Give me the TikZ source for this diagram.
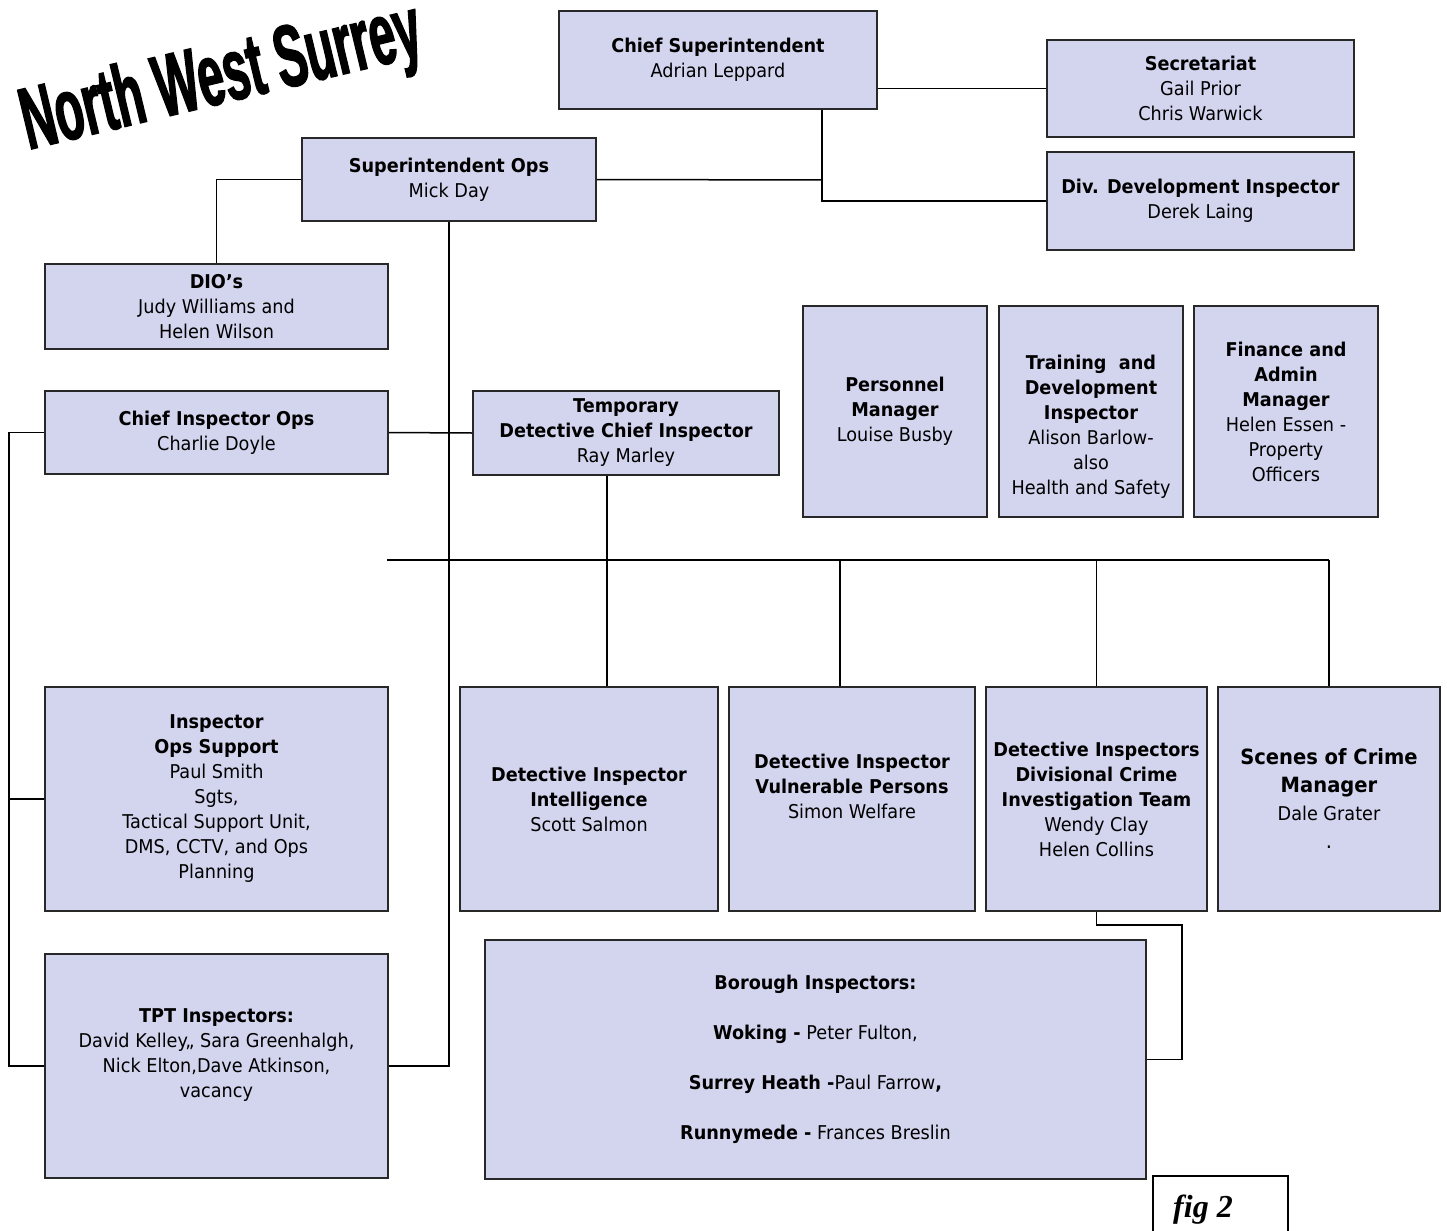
\documentclass[tikz,border=0pt]{standalone}
\usepackage{fontspec}
\setmainfont{DejaVu Sans}[FakeStretch=0.93]
\newfontfamily\titlefont{Liberation Sans}[FakeStretch=0.53,FakeBold=1.5]
\newfontfamily\figfont{Liberation Serif}
\definecolor{boxfill}{RGB}{211,213,239}
\definecolor{boxline}{RGB}{40,40,40}

\begin{document}
\begin{tikzpicture}[x=0.5pt, y=-0.5pt,
	post/.style={rectangle, fill=boxfill, draw=boxline, line width=0.9pt, inner sep=0pt, align=center, font=\fontsize{9.5}{12.5}\selectfont},
	link/.style={black, line width=0.75pt}]
	\useasboundingbox (0,0) rectangle (1447,1231);

	% Title
	\node[rotate=13.5, font=\titlefont\bfseries\fontsize{44}{44}\selectfont] (title) at (222,80) {North West Surrey};

	% Top posts
	\node[post, minimum width=159pt, minimum height=49pt] (chief) at (718,60) {\textbf{Chief Superintendent}\\Adrian Leppard};
	\node[post, minimum width=153.5pt, minimum height=48.5pt] (sec) at (1200.5,88.5) {\textbf{Secretariat}\\Gail Prior\\Chris Warwick};
	\node[post, minimum width=153.5pt, minimum height=49pt] (divdev) at (1200.5,201) {\textbf{Div. Development Inspector}\\Derek Laing};
	\node[post, minimum width=147pt, minimum height=41.5pt] (supops) at (449,179.5) {\textbf{Superintendent Ops}\\Mick Day};
	\node[post, minimum width=171.5pt, minimum height=42.5pt] (dios) at (216.5,306.5) {\textbf{DIO’s}\\Judy Williams and\\Helen Wilson};
	\node[post, minimum width=171.5pt, minimum height=41.5pt] (chiefinsp) at (216.5,432.5) {\textbf{Chief Inspector Ops}\\Charlie Doyle};
	\node[post, minimum width=153pt, minimum height=42pt] (tdci) at (626,433) {\textbf{Temporary}\\\textbf{Detective Chief Inspector}\\Ray Marley};

	% Support posts
	\node[post, minimum width=92pt, minimum height=105.5pt] (personnel) at (895,411.5) {\textbf{Personnel}\\\textbf{Manager}\\Louise Busby};
	\node[post, minimum width=92pt, minimum height=105.5pt] (training) at (1091,411.5) {\mbox{}\\[10pt]\textbf{Training~ and}\\\textbf{Development}\\\textbf{Inspector}\\Alison Barlow-\\also\\Health and Safety};
	\node[post, minimum width=92pt, minimum height=105.5pt] (finance) at (1286,411.5) {\textbf{Finance and}\\\textbf{Admin}\\\textbf{Manager}\\Helen Essen -\\Property\\Officers};

	% Lower posts
	\node[post, minimum width=171.5pt, minimum height=112pt] (opssupp) at (216.5,799) {\textbf{Inspector}\\\textbf{Ops Support}\\Paul Smith\\Sgts,\\Tactical Support Unit,\\DMS, CCTV, and Ops\\Planning};
	\node[post, minimum width=171.5pt, minimum height=112pt] (tpt) at (216.5,1066) {\textbf{TPT Inspectors:}\\David Kelley,, Sara Greenhalgh,\\Nick Elton,Dave Atkinson,\\vacancy\\\mbox{}};
	\node[post, minimum width=129pt, minimum height=112pt] (intel) at (589,799) {\textbf{Detective Inspector}\\\textbf{Intelligence}\\Scott Salmon};
	\node[post, minimum width=123pt, minimum height=112pt] (vuln) at (852,799) {\textbf{Detective Inspector}\\\textbf{Vulnerable Persons}\\Simon Welfare\\\mbox{}};
	\node[post, minimum width=110.5pt, minimum height=112pt] (dcit) at (1096.5,799) {\textbf{Detective Inspectors}\\\textbf{Divisional Crime}\\\textbf{Investigation Team}\\Wendy Clay\\Helen Collins};
	\node[post, minimum width=111pt, minimum height=112pt, font=\fontsize{10.5}{14}\selectfont] (soc) at (1329,799) {\textbf{Scenes of Crime}\\\textbf{Manager}\\{\fontsize{9.5}{12.5}\selectfont Dale Grater}\\.};
	\node[post, minimum width=330.5pt, minimum height=119.5pt] (borough) at (815.5,1059.5) {\textbf{Borough Inspectors:}\\[12.5pt]\textbf{Woking -} Peter Fulton,\\[12.5pt]\textbf{Surrey Heath -}Paul Farrow\textbf{,}\\[12.5pt]\textbf{Runnymede -} Frances Breslin};

	% fig box
	\node[rectangle, draw=black, line width=0.75pt, minimum width=67.5pt, minimum height=40pt] (fig) at (1220.5,1216) {};
	\node[font=\figfont\bfseries\itshape\fontsize{16}{16}\selectfont] (figlbl) at (1203,1210) {fig 2};

	% Connect
	\coordinate (j1) at (822,180);
	\draw[link] (sec.west) -- (sec.west -| chief.east);
	\draw[link] (chief.south -| j1) -- (j1) |- (divdev.west);
	\draw[link] (supops.east) -- (j1);
	\draw[link] (supops.west) -| (dios.north);
	\draw[link] (supops.south) |- (tpt.east);
	\draw[link] (chiefinsp.east) -- (tdci.west);

	\coordinate (spine) at (9,799);
	\draw[link] (chiefinsp.west) -| (spine) |- (tpt.west);
	\draw[link] (opssupp.west) -- (spine);

	\coordinate (busL) at (387,560);
	\coordinate (busR) at (1329,560);
	\draw[link] (busL) -- (busR);
	\draw[link] ([xshift=-9.5pt]tdci.south) -- ([xshift=-9.5pt]tdci.south |- intel.north);
	\draw[link] ([xshift=-6pt]vuln.north) -- ([xshift=-6pt]vuln.north |- busL);
	\draw[link] (dcit.north) -- (dcit.north |- busL);
	\draw[link] (busR) -- (soc.north);

	\coordinate (bend) at (1182,925);
	\draw[link] (dcit.south) |- (bend) |- (borough.east);

\end{tikzpicture}
\end{document}
